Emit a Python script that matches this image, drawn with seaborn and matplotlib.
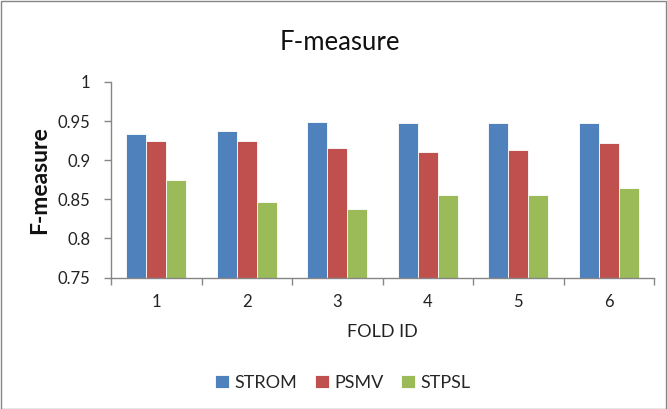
import matplotlib
matplotlib.use("Agg")
import matplotlib.pyplot as plt
import seaborn as sns
import pandas as pd
from matplotlib.patches import Rectangle
from matplotlib.ticker import FixedLocator

folds = ["1", "2", "3", "4", "5", "6"]
strom = [0.934, 0.937, 0.949, 0.948, 0.948, 0.948]
psmv = [0.925, 0.924, 0.915, 0.911, 0.913, 0.922]
stpsl = [0.875, 0.847, 0.837, 0.856, 0.856, 0.864]
series = ["STROM", "PSMV", "STPSL"]
colors = ["#4F81BD", "#C0504D", "#9BBB59"]
yticks = [0.75, 0.8, 0.85, 0.9, 0.95, 1.0]
ytick_labels = ["0.75", "0.8", "0.85", "0.9", "0.95", "1"]

df = pd.DataFrame({
    "fold": folds * 3,
    "value": strom + psmv + stpsl,
    "series": [series[0]] * 6 + [series[1]] * 6 + [series[2]] * 6,
})

sns.set_theme(style="white")
plt.rcParams["font.family"] = ["Lato", "DejaVu Sans"]

fig = plt.figure(figsize=(6.67, 4.09), dpi=100)
ax = fig.add_axes([111 / 667, 1 - 277.5 / 409, (654 - 111) / 667, (277.5 - 82) / 409])

sns.barplot(data=df, x="fold", y="value", hue="series", palette=colors,
            width=0.66, ax=ax, edgecolor="white", linewidth=0.6, saturation=1)

ax.set_ylim(0.75, 1.0)
ax.set_xlim(-0.5, 5.5)
ax.set_yticks(yticks)
ax.set_yticklabels(ytick_labels, fontsize=12, color="#222222")
ax.set_xticklabels(folds, fontsize=12, color="#222222")
ax.tick_params(axis="x", which="major", length=0, pad=12)
ax.xaxis.set_minor_locator(FixedLocator([i - 0.5 for i in range(7)]))
ax.tick_params(axis="x", which="minor", length=5, color="#868686", width=1, direction="out", bottom=True)
ax.tick_params(axis="y", which="major", length=5, color="#868686", width=1, direction="out", left=True, pad=10)

for s in ["top", "right"]:
    ax.spines[s].set_visible(False)
for s in ["left", "bottom"]:
    ax.spines[s].set_color("#868686")
    ax.spines[s].set_linewidth(1)

ax.set_xlabel("FOLD ID", fontsize=13, color="#222222", labelpad=10)
ax.set_ylabel("F-measure", fontsize=16.5, fontweight="bold", color="#111111", labelpad=5)

fig.text(340 / 667, 1 - 43 / 409, "F-measure", fontsize=18.5, ha="center", va="center", color="#111111")

handles, labels = ax.get_legend_handles_labels()
ax.legend(handles, labels, loc="center", bbox_to_anchor=(343 / 667, 1 - 383 / 409), bbox_transform=fig.transFigure,
          ncol=3, frameon=False, fontsize=13, handlelength=0.75, handleheight=0.75, handletextpad=0.3,
          columnspacing=1.0)

fig.patches.append(Rectangle((0.5 / 667, 0.5 / 409), 665.5 / 667, 407.5 / 409, transform=fig.transFigure,
                             fill=False, edgecolor="#868686", linewidth=1))

fig.savefig("out.png", dpi=100)
